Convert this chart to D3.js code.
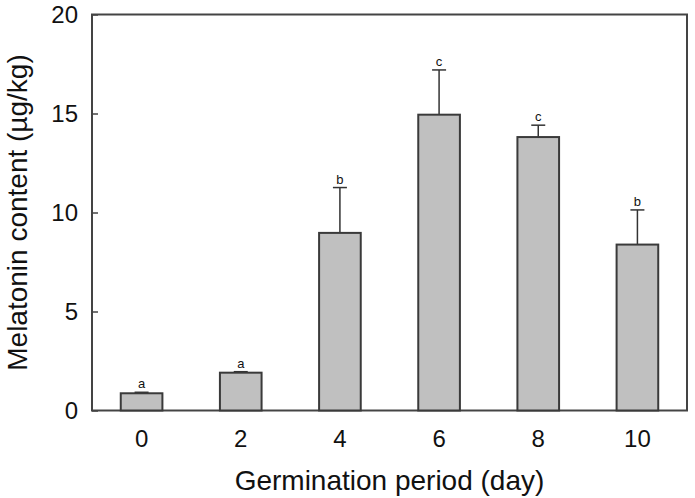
<!DOCTYPE html>
<html><head><meta charset="utf-8">
<script src="https://cdn.jsdelivr.net/npm/d3@7"></script>
<style>body{margin:0;background:#fff}svg{display:block}text{font-family:"Liberation Sans",Arial,sans-serif;fill:#111}</style>
</head><body>
<svg id="c" width="695" height="498"></svg>
<script>
const categories = ["0","2","4","6","8","10"];
const values = [0.87, 1.91, 8.97, 14.94, 13.81, 8.38];
const errors = [0.05, 0.05, 2.29, 2.26, 0.6, 1.75];
const letters = ["a","a","b","c","c","b"];
const yTicks = [0,5,10,15,20];

const svg = d3.select("#c");
const m = {l:92, r:8, t:14.5, b:87.5};
const W = 695, H = 498;
const x = d3.scaleBand().domain(categories).range([m.l, W-m.r]).paddingInner(0.58).paddingOuter(0.29);
const y = d3.scaleLinear().domain([0,20]).range([H-m.b, m.t]);

// frame
svg.append("rect").attr("x",m.l).attr("y",m.t).attr("width",W-m.r-m.l).attr("height",H-m.b-m.t)
  .attr("fill","none").attr("stroke","#444").attr("stroke-width",2);

// y axis
const ya = svg.append("g").attr("transform",`translate(${m.l},0)`)
  .call(d3.axisLeft(y).tickValues(yTicks).tickSizeInner(-6).tickSizeOuter(0).tickPadding(14));
ya.select(".domain").remove();
ya.selectAll("line").attr("stroke","#444").attr("stroke-width",1.5);
ya.selectAll("text").attr("font-size",24).style("font-family","Liberation Sans, Arial, sans-serif").attr("fill","#111");

// x axis
const xa = svg.append("g").attr("transform",`translate(0,${H-m.b})`)
  .call(d3.axisBottom(x).tickSize(0).tickPadding(19));
xa.select(".domain").remove();
xa.selectAll("text").attr("font-size",24).style("font-family","Liberation Sans, Arial, sans-serif").attr("fill","#111");

// error bars
const g = svg.append("g");
categories.forEach((c,i)=>{
  const cx = x(c)+x.bandwidth()/2;
  const top = y(values[i]+errors[i]);
  g.append("line").attr("x1",cx).attr("x2",cx).attr("y1",y(values[i])).attr("y2",top).attr("stroke","#333").attr("stroke-width",1.5);
  g.append("line").attr("x1",cx-7).attr("x2",cx+7).attr("y1",top).attr("y2",top).attr("stroke","#333").attr("stroke-width",1.5);
  g.append("text").attr("x",cx).attr("y",top-4).attr("text-anchor","middle").attr("font-size",13).text(letters[i]);
});

// bars
svg.append("g").selectAll("rect").data(values).join("rect")
  .attr("x",(d,i)=>x(categories[i])).attr("width",x.bandwidth())
  .attr("y",d=>y(d)).attr("height",d=>y(0)-y(d))
  .attr("fill","#c0c0c0").attr("stroke","#3a3a3a").attr("stroke-width",2);

// axis titles
svg.append("text").attr("x",(m.l+W-m.r)/2).attr("y",490).attr("text-anchor","middle").attr("font-size",28).text("Germination period (day)");
svg.append("text").attr("transform",`translate(27,${(m.t+H-m.b)/2}) rotate(-90)`).attr("text-anchor","middle").attr("font-size",28).text("Melatonin content (\u00b5g/kg)");
</script>
</body></html>
